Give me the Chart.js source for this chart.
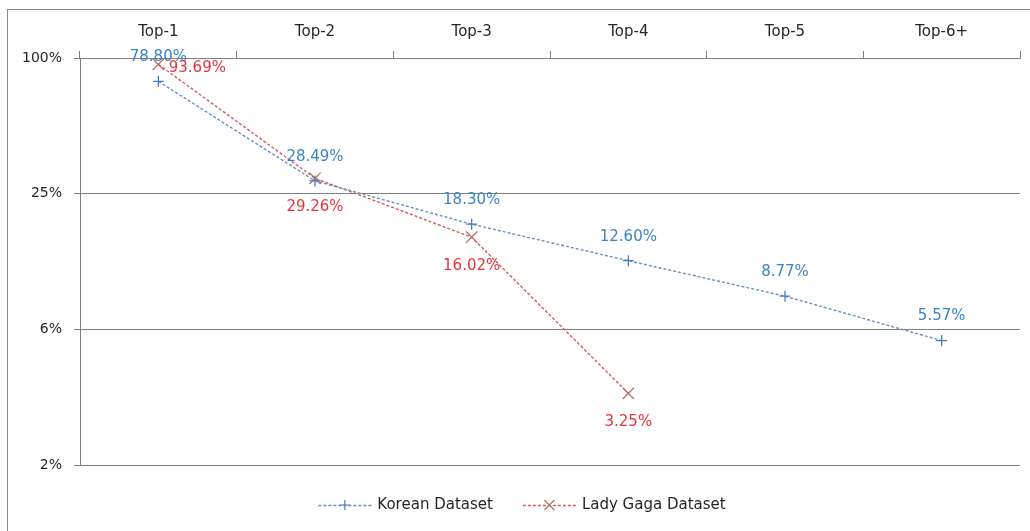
<!DOCTYPE html>
<html>
<head>
<meta charset="utf-8">
<script src="https://cdn.jsdelivr.net/npm/chart.js@4/dist/chart.umd.min.js"></script>
<style>
  html, body { margin: 0; padding: 0; background: #fff; }
  #frame { position: absolute; left: 7px; top: 9px; width: 1040px; height: 540px;
           border-left: 1px solid #8a8a8a; border-top: 1px solid #8a8a8a; }
  #chart { position: absolute; left: 0; top: 0; }
</style>
</head>
<body>
<div id="frame"></div>
<canvas id="chart" width="1030" height="531"></canvas>
<script>
const categories = ["Top-1", "Top-2", "Top-3", "Top-4", "Top-5", "Top-6+"];
const koreanValues = [78.80, 28.49, 18.30, 12.60, 8.77, 5.57];
const ladyGagaValues = [93.69, 29.26, 16.02, 3.25, null, null];
const yTickValues = [1.5625, 6.25, 25, 100];

const FONT = "'DejaVu Sans', Verdana, sans-serif";

// value labels next to each point
const valueLabels = {
  id: 'valueLabels',
  afterDatasetsDraw(chart) {
    const ctx = chart.ctx;
    ctx.save();
    ctx.font = "15px " + FONT;
    ctx.textAlign = 'center';
    ctx.textBaseline = 'middle';
    chart.data.datasets.forEach((ds, i) => {
      const meta = chart.getDatasetMeta(i);
      meta.data.forEach((pt, j) => {
        const v = ds.data[j];
        if (v == null) return;
        const off = (ds.labelOffsets && ds.labelOffsets[j]) || ds.labelOffset;
        ctx.fillStyle = ds.labelColor;
        ctx.fillText(v.toFixed(2) + '%', pt.x + off[0], pt.y + off[1]);
      });
    });
    ctx.restore();
  }
};

// legend: dashed line with marker, like the original
const lineLegend = {
  id: 'lineLegend',
  afterDraw(chart) {
    const ctx = chart.ctx;
    const y = 505, lineLen = 53, gap = 6, itemGap = 30;
    ctx.save();
    ctx.font = "15px " + FONT;
    ctx.textBaseline = 'middle';
    const items = chart.data.datasets.map(ds => ({ ds, w: lineLen + gap + ctx.measureText(ds.label).width }));
    const total = items.reduce((s, it) => s + it.w, 0) + itemGap * (items.length - 1);
    let x = 522 - total / 2;
    items.forEach(it => {
      const ds = it.ds;
      ctx.strokeStyle = ds.borderColor;
      ctx.lineWidth = ds.borderWidth;
      ctx.setLineDash(ds.borderDash);
      ctx.beginPath();
      ctx.moveTo(x, y + 0.5);
      ctx.lineTo(x + lineLen, y + 0.5);
      ctx.stroke();
      ctx.setLineDash([]);
      const cx = x + lineLen / 2;
      ctx.strokeStyle = ds.pointBorderColor;
      ctx.lineWidth = 1.2;
      ctx.beginPath();
      if (ds.pointStyle === 'cross') {
        ctx.moveTo(cx - 5, y); ctx.lineTo(cx + 5, y);
        ctx.moveTo(cx, y - 5); ctx.lineTo(cx, y + 5);
      } else {
        ctx.moveTo(cx - 5, y - 5); ctx.lineTo(cx + 5, y + 5);
        ctx.moveTo(cx + 5, y - 5); ctx.lineTo(cx - 5, y + 5);
      }
      ctx.stroke();
      ctx.fillStyle = '#262626';
      ctx.fillText(ds.label, x + lineLen + gap, y);
      x += it.w + itemGap;
    });
    ctx.restore();
  }
};

new Chart(document.getElementById("chart"), {
  type: 'line',
  data: {
    labels: categories,
    datasets: [
      {
        label: "Korean Dataset",
        data: koreanValues,
        borderColor: "#6a8fc2",
        borderWidth: 1.4,
        borderDash: [3, 2],
        pointStyle: 'cross',
        pointRadius: 5.5,
        pointBorderWidth: 1.3,
        pointBorderColor: "#4a7ebb",
        labelColor: "#3b84c4",
        labelOffset: [0, -24]
      },
      {
        label: "Lady Gaga Dataset",
        data: ladyGagaValues,
        borderColor: "#d25c5a",
        borderWidth: 1.4,
        borderDash: [3, 2],
        pointStyle: 'crossRot',
        pointRadius: 8,
        pointBorderWidth: 1.3,
        pointBorderColor: "#b8706b",
        labelColor: "#e8343c",
        labelOffset: [0, 29],
        labelOffsets: [[39, 4]]
      }
    ]
  },
  options: {
    responsive: false,
    devicePixelRatio: 1,
    animation: false,
    layout: { padding: { left: 0, top: 0, right: 10, bottom: 66 } },
    plugins: { legend: { display: false }, tooltip: { enabled: false } },
    scales: {
      x: {
        position: 'top',
        offset: true,
        afterFit(scale) { scale.height = 58; },
        grid: { offset: true, drawOnChartArea: false, drawTicks: true, tickLength: 7, color: '#808080' },
        border: { display: true, color: '#808080' },
        ticks: { color: '#262626', font: { family: FONT, size: 15 }, padding: 10 }
      },
      y: {
        type: 'logarithmic',
        min: 1.5625,
        max: 100,
        afterFit(scale) { scale.width = 80; },
        afterBuildTicks(scale) { scale.ticks = yTickValues.map(v => ({ value: v })); },
        grid: { color: '#808080', drawTicks: true, tickLength: 6 },
        border: { display: true, color: '#808080' },
        ticks: {
          color: '#262626',
          font: { family: FONT, size: 14 },
          padding: 12,
          callback: v => Math.round(v) + '%'
        }
      }
    }
  },
  plugins: [valueLabels, lineLegend]
});
</script>
</body>
</html>
